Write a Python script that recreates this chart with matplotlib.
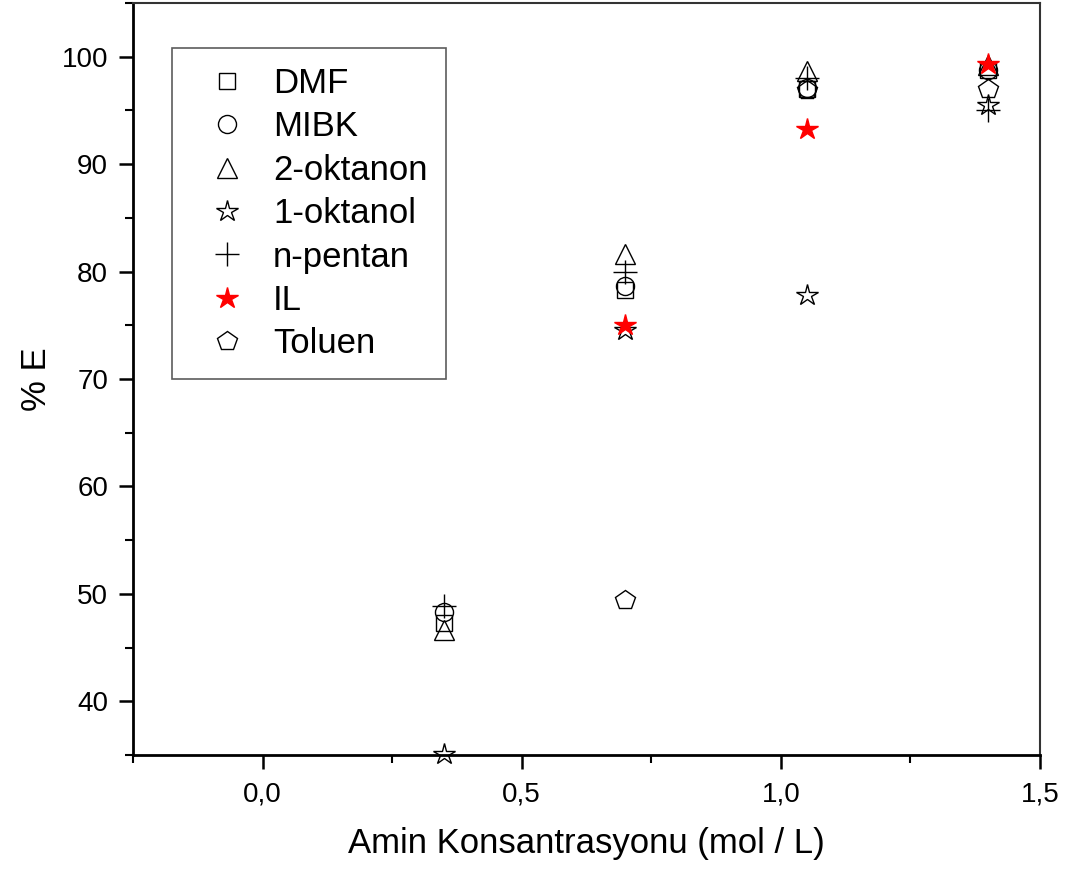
import numpy as np
import matplotlib
matplotlib.use('Agg')
import matplotlib.pyplot as plt
from matplotlib.ticker import MultipleLocator, FuncFormatter

plt.rcParams['font.family'] = ['Liberation Sans', 'DejaVu Sans']

# amine concentration (mol / L)
konsantrasyon = [0.35, 0.70, 1.05, 1.40]

# % extraction for each solvent (nan = below visible range)
dmf = [47.3, 78.3, 97.0, 98.8]
mibk = [48.3, 78.7, 97.1, 98.8]
oktanon2 = [46.6, 81.6, 98.7, 99.2]
oktanol1 = [35.1, 74.6, 77.8, 95.5]
npentan = [48.9, 80.0, 98.0, 95.0]
il = [np.nan, 75.0, 93.3, 99.3]
toluen = [np.nan, 49.4, 96.9, 97.0]

series = [
    ('DMF', dmf, 's', 'none', 'black', 12),
    ('MIBK', mibk, 'o', 'none', 'black', 13),
    ('2-oktanon', oktanon2, '^', 'none', 'black', 15),
    ('1-oktanol', oktanol1, '*', 'none', 'black', 16),
    ('n-pentan', npentan, '+', 'black', 'black', 17),
    ('IL', il, '*', 'red', 'red', 16),
    ('Toluen', toluen, 'p', 'none', 'black', 15),
]

fig = plt.figure(figsize=(10.67, 8.73), dpi=100)
ax = fig.add_axes([0.1247, 0.1352, 0.85, 0.8614])

for name, vals, mk, fc, ec, size in series:
    ax.plot(konsantrasyon, vals, ls='', marker=mk, markersize=size,
            markerfacecolor=fc, markeredgecolor=ec, markeredgewidth=1.0,
            label=name, clip_on=False)

ax.set_xlim(-0.25, 1.5)
ax.set_ylim(35, 105)
ax.xaxis.set_major_locator(MultipleLocator(0.5))
ax.xaxis.set_minor_locator(MultipleLocator(0.25))
ax.yaxis.set_minor_locator(MultipleLocator(5))
ax.xaxis.set_major_formatter(FuncFormatter(lambda v, p: ('%.1f' % v).replace('.', ',')))
ax.set_yticks(np.arange(40, 101, 10))

ax.tick_params(which='major', direction='out', length=10, width=1.8,
               labelsize=20, top=False, right=False)
ax.tick_params(axis='x', which='major', pad=9)
ax.tick_params(axis='y', which='major', pad=8)
ax.tick_params(which='minor', direction='out', length=6, width=1.5,
               top=False, right=False)
for s in ['left', 'bottom']:
    ax.spines[s].set_linewidth(2)
for s in ['top', 'right']:
    ax.spines[s].set_linewidth(1.5)
    ax.spines[s].set_color('#333333')

ax.set_xlabel('Amin Konsantrasyonu (mol / L)', fontsize=25, labelpad=14)
ax.set_ylabel('% E', fontsize=25, labelpad=6)

leg = ax.legend(loc='upper left', bbox_to_anchor=(0.043, 0.94),
                borderaxespad=0, fontsize=25, frameon=True, fancybox=False,
                handletextpad=0.27, labelspacing=0.3, borderpad=0.54,
                markerscale=1.0, handlelength=2.1)
leg.get_frame().set_edgecolor('#333333')
leg.get_frame().set_linewidth(1.2)

fig.savefig('out.png', dpi=100)
